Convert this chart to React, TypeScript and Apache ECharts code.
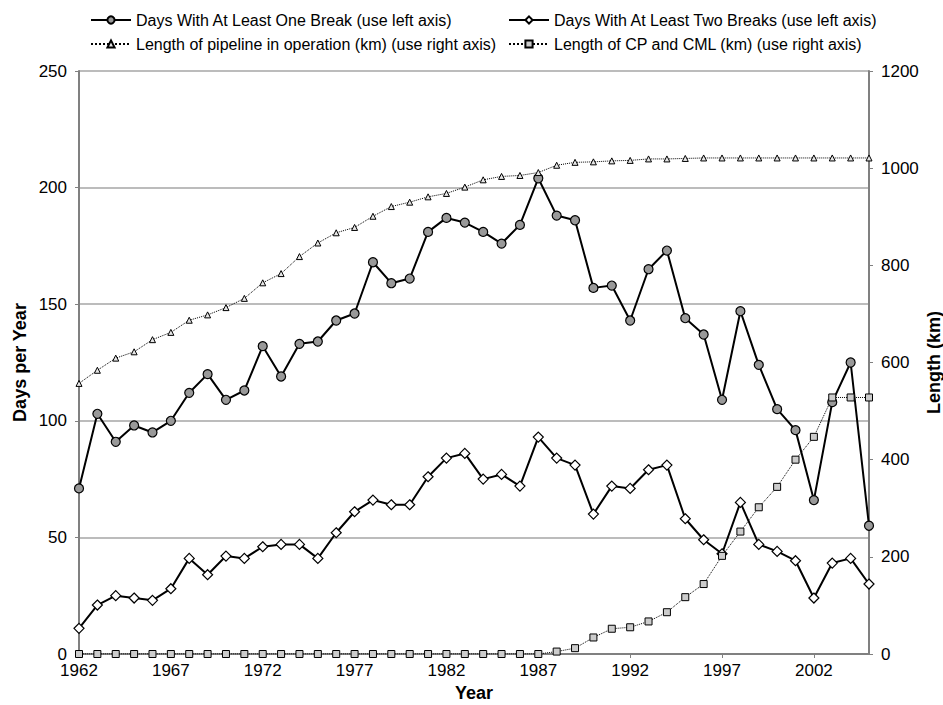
import React, { useEffect, useRef } from "react";
import * as echarts from "echarts";

const years: string[] = [];
for (let y = 1962; y <= 2005; y++) years.push(String(y));

const oneBreak = [71, 103, 91, 98, 95, 100, 112, 120, 109, 113, 132, 119, 133, 134, 143, 146, 168, 159, 161, 181, 187, 185, 181, 176, 184, 204, 188, 186, 157, 158, 143, 165, 173, 144, 137, 109, 147, 124, 105, 96, 66, 108, 125, 55];
const twoBreaks = [11, 21, 25, 24, 23, 28, 41, 34, 42, 41, 46, 47, 47, 41, 52, 61, 66, 64, 64, 76, 84, 86, 75, 77, 72, 93, 84, 81, 60, 72, 71, 79, 81, 58, 49, 43, 65, 47, 44, 40, 24, 39, 41, 30];
const pipelineKm = [557, 584, 609, 622, 647, 662, 687, 698, 713, 732, 764, 783, 818, 846, 867, 878, 901, 921, 930, 941, 948, 961, 976, 983, 985, 991, 1006, 1012, 1013, 1015, 1016, 1019, 1019, 1020, 1021, 1021, 1021, 1021, 1021, 1021, 1021, 1021, 1021, 1021];
const cpCmlKm = [0, 0, 0, 0, 0, 0, 0, 0, 0, 0, 0, 0, 0, 0, 0, 0, 0, 0, 0, 0, 0, 0, 0, 0, 0, 0, 5, 12, 34, 52, 55, 67, 86, 117, 144, 202, 252, 302, 344, 400, 447, 528, 528, 528];

const leftTicks = { min: 0, max: 250, interval: 50 };
const rightTicks = { min: 0, max: 1200, interval: 200 };

const names = [
  "Days With At Least One Break (use left axis)",
  "Days With At Least Two Breaks (use left axis)",
  "Length of pipeline in operation (km) (use right axis)",
  "Length of CP and CML (km) (use right axis)",
];

const FONT = "'Liberation Sans', Arial, Helvetica, sans-serif";

export default function App() {
  const ref = useRef<HTMLDivElement>(null);
  useEffect(() => {
    if (!ref.current) return;
    const chart = echarts.init(ref.current, undefined, { renderer: "svg" });
    const legendBase = {
      orient: "horizontal" as const,
      itemWidth: 40,
      itemHeight: 9,
      textStyle: { fontSize: 16, color: "#000", fontFamily: FONT },
      selectedMode: false,
    };
    const axisLineStyle = { color: "#808080", width: 2 };
    chart.setOption({
      animation: false,
      backgroundColor: "#fff",
      textStyle: { fontFamily: FONT },
      legend: [
        { ...legendBase, left: 85, top: 7, data: [names[0]] },
        { ...legendBase, left: 503, top: 7, data: [names[1]] },
        { ...legendBase, left: 85, top: 31, data: [names[2]] },
        { ...legendBase, left: 503, top: 31, data: [names[3]] },
      ],
      grid: { left: 79, right: 74, top: 71, bottom: 51, containLabel: false, outerBoundsMode: "none" },
      xAxis: {
        type: "category",
        data: years,
        boundaryGap: false,
        name: "Year",
        nameLocation: "middle",
        nameGap: 30,
        nameMoveOverlap: false,
        nameTextStyle: { fontSize: 18, fontWeight: "bold", color: "#000", fontFamily: FONT },
        axisLine: { lineStyle: axisLineStyle },
        axisTick: { show: true, interval: 4, length: 4, lineStyle: { color: "#808080", width: 1 } },
        axisLabel: { interval: 4, fontSize: 17, color: "#000", margin: 8, fontFamily: FONT },
        splitLine: { show: false },
      },
      yAxis: [
        {
          type: "value",
          ...leftTicks,
          name: "Days per Year",
          nameLocation: "middle",
          nameGap: 50,
          nameMoveOverlap: false,
          nameTextStyle: { fontSize: 18, fontWeight: "bold", color: "#000", fontFamily: FONT },
          axisLine: { show: true, lineStyle: axisLineStyle },
          axisTick: { show: true, length: 4, lineStyle: { color: "#808080" } },
          axisLabel: { fontSize: 17, color: "#000", margin: 12, fontFamily: FONT, formatter: (v: number) => String(v) },
          splitLine: { show: true, lineStyle: { color: "#a6a6a6", width: 1.5 } },
        },
        {
          type: "value",
          position: "right",
          ...rightTicks,
          name: "Length (km)",
          nameLocation: "middle",
          nameGap: 56,
          nameMoveOverlap: false,
          nameTextStyle: { fontSize: 18, fontWeight: "bold", color: "#000", fontFamily: FONT },
          axisLine: { show: true, lineStyle: axisLineStyle },
          axisTick: { show: true, length: 4, lineStyle: { color: "#808080" } },
          axisLabel: { fontSize: 17, color: "#000", margin: 12, fontFamily: FONT, formatter: (v: number) => String(v) },
          splitLine: { show: false },
        },
      ],
      series: [
        {
          name: names[0],
          type: "line",
          yAxisIndex: 0,
          data: oneBreak,
          symbol: "circle",
          symbolSize: 9,
          lineStyle: { color: "#000", width: 2 },
          itemStyle: { color: "#999", borderColor: "#000", borderWidth: 1.2 },
        },
        {
          name: names[1],
          type: "line",
          yAxisIndex: 0,
          data: twoBreaks,
          symbol: "diamond",
          symbolSize: 10,
          lineStyle: { color: "#000", width: 2 },
          itemStyle: { color: "#fff", borderColor: "#000", borderWidth: 1.2 },
        },
        {
          name: names[2],
          type: "line",
          yAxisIndex: 1,
          data: pipelineKm,
          symbol: "triangle",
          symbolSize: 6,
          lineStyle: { color: "#000", width: 1, type: "dotted" },
          itemStyle: { color: "#e6e6e6", borderColor: "#000", borderWidth: 1 },
        },
        {
          name: names[3],
          type: "line",
          yAxisIndex: 1,
          data: cpCmlKm,
          symbol: "rect",
          symbolSize: 7,
          lineStyle: { color: "#000", width: 1, type: "dotted" },
          itemStyle: { color: "#ccc", borderColor: "#000", borderWidth: 1 },
        },
      ],
    });
    return () => chart.dispose();
  }, []);
  return <div ref={ref} style={{ width: 943, height: 705, position: "absolute", left: 0, top: 0 }} />;
}
